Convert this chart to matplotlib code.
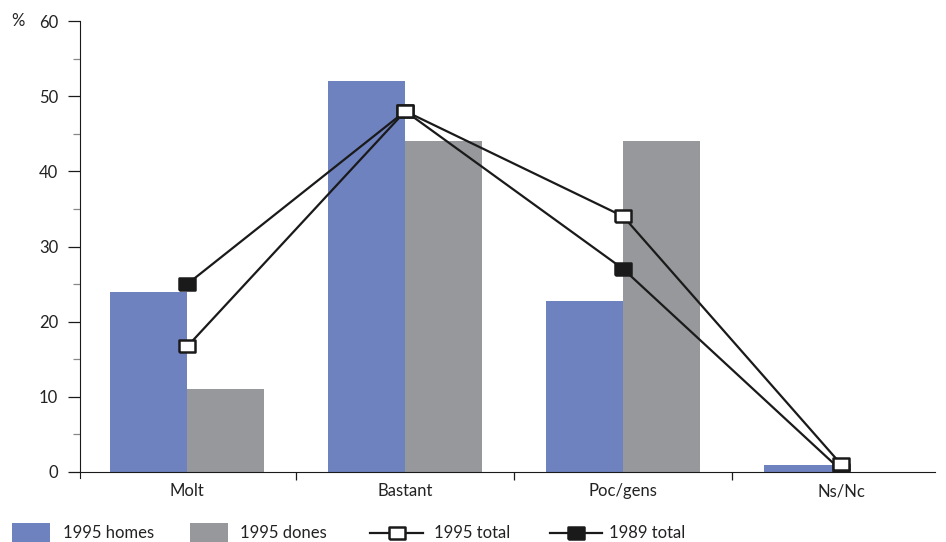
import numpy as np
import matplotlib
matplotlib.use("Agg")
import matplotlib.pyplot as plt
from matplotlib.lines import Line2D
from matplotlib.patches import Rectangle

plt.rcParams['font.family'] = ['Lato', 'DejaVu Sans']

categories = ["Molt", "Bastant", "Poc/gens", "Ns/Nc"]
homes_1995 = [24, 52, 22.8, 0.9]
dones_1995 = [11, 44, 44, 0]
total_1995 = [16.7, 48, 34, 1.0]
total_1989 = [25, 48, 27, 0.2]

BLUE = "#6f82c0"
GRAY = "#97989b"
INK = "#1a1a1a"
W, H = 946, 542
# markers in the original are slightly wider than tall
BOX = [(-1, -0.75), (1, -0.75), (1, 0.75), (-1, 0.75), (-1, -0.75)]
MS = 11.5


def fx(px):
    return px / W


def fy(py):
    return 1 - py / H


fig = plt.figure(figsize=(9.46, 5.42), dpi=100)
ax = fig.add_axes([fx(80), fy(472), fx(935) - fx(80), fy(21) - fy(472)])

x = np.arange(len(categories))
w = 0.353
ax.bar(x - w / 2, homes_1995, width=w, color=BLUE, zorder=2)
ax.bar(x + w / 2, dones_1995, width=w, color=GRAY, zorder=2)

ax.plot(x, total_1995, color=INK, lw=1.6, marker=BOX, ms=MS,
        mfc="white", mec=INK, mew=1.8, zorder=4)
ax.plot(x, total_1989, color=INK, lw=1.6, marker=BOX, ms=MS,
        mfc=INK, mec=INK, mew=1.8, zorder=3)

ax.set_xlim(-0.492, 3.43)
ax.set_ylim(0, 60)

for s in ["top", "right"]:
    ax.spines[s].set_visible(False)
ax.spines["left"].set_color(INK)
ax.spines["bottom"].set_color(INK)
# y axis runs a little below the x axis
ax.plot([0, 0], [0, -0.014], transform=ax.transAxes, color=INK, lw=0.8,
        clip_on=False)

ax.set_yticks(range(0, 61, 10))
ax.set_yticks(range(5, 60, 10), minor=True)
ax.tick_params(axis="y", which="major", length=8.6, width=0.9, color=INK,
               labelsize=12, pad=7, labelcolor="#222222")
ax.tick_params(axis="y", which="minor", length=5, width=0.9, color="#888888")

ax.set_xticks(x)
ax.set_xticklabels(categories)
ax.set_xticks([0.5, 1.5, 2.5], minor=True)
ax.tick_params(axis="x", which="major", length=0, labelsize=12, pad=8,
               labelcolor="#222222")
ax.tick_params(axis="x", which="minor", length=5.8, width=0.9, color=INK)

fig.text(fx(18), fy(21), "%", fontsize=12, color="#222222",
         ha="center", va="center")

# legend along the bottom edge
leg_y = 533
for x0, color, label, tx in [(12, BLUE, "1995 homes", 63),
                             (190, GRAY, "1995 dones", 240)]:
    fig.add_artist(Rectangle((fx(x0), fy(542)), fx(38), fy(523) - fy(542),
                             facecolor=color, edgecolor="none",
                             transform=fig.transFigure))
    fig.text(fx(tx), fy(leg_y), label, fontsize=12, color="#222222",
             ha="left", va="center")

for x0, x1, face, label, tx in [(370, 423, "white", "1995 total", 434),
                                (550, 602, INK, "1989 total", 609)]:
    fig.add_artist(Line2D([fx(x0), fx(x1)], [fy(leg_y), fy(leg_y)],
                          color=INK, lw=1.6, transform=fig.transFigure))
    fig.add_artist(Line2D([fx((x0 + x1) / 2)], [fy(leg_y)], marker=BOX,
                          ms=MS, mfc=face, mec=INK, mew=1.8, ls="none",
                          transform=fig.transFigure))
    fig.text(fx(tx), fy(leg_y), label, fontsize=12, color="#222222",
             ha="left", va="center")

fig.savefig("out.png", dpi=100)
